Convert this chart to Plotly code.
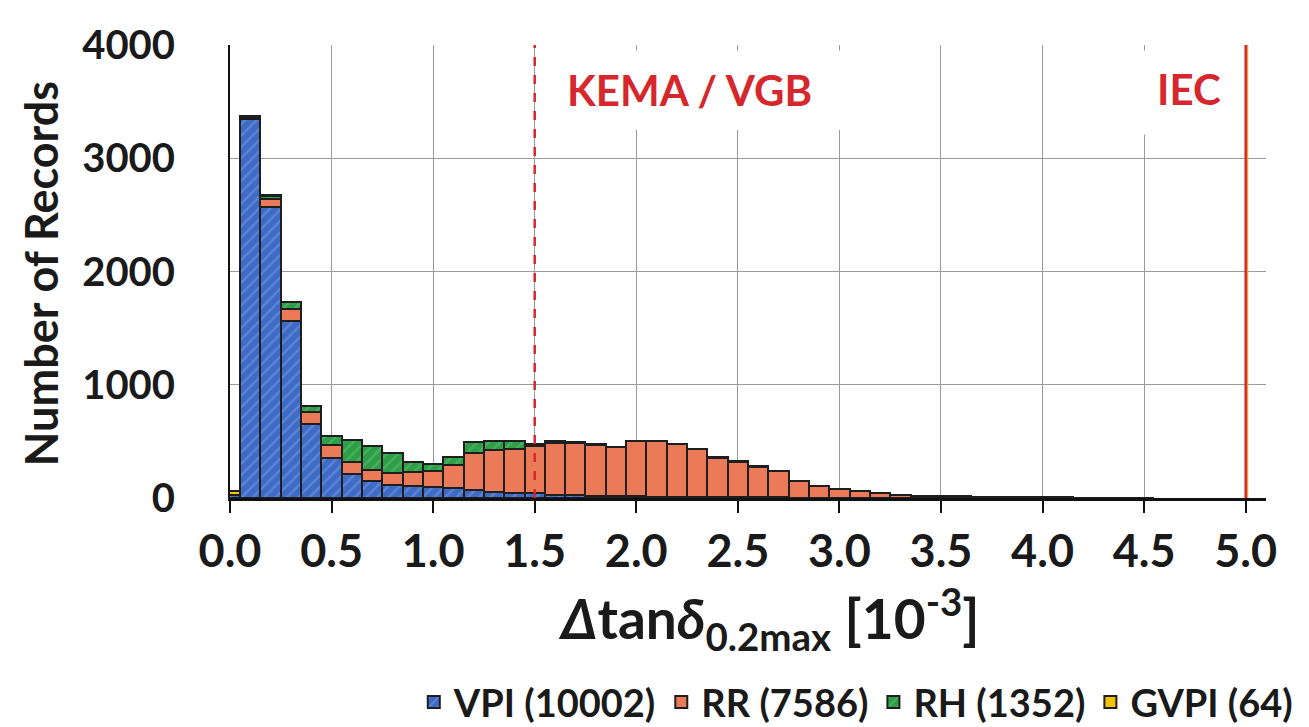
import plotly.graph_objects as go

# ---- data (bin centres in 10^-3) ----
bin_centers = [0.0, 0.1, 0.2, 0.3, 0.4, 0.5, 0.6, 0.7, 0.8, 0.9,
               1.0, 1.1, 1.2, 1.3, 1.4, 1.5, 1.6, 1.7, 1.8, 1.9,
               2.0, 2.1, 2.2, 2.3, 2.4, 2.5, 2.6, 2.7, 2.8, 2.9,
               3.0, 3.1, 3.2, 3.3, 3.4, 3.5, 3.6, 3.7, 3.8, 3.9,
               4.0, 4.1, 4.2, 4.3, 4.4, 4.5]

vpi = [25, 3345, 2570, 1560, 655, 350, 215, 150, 115, 110,
       100, 85, 70, 55, 45, 40, 30, 25, 20, 18,
       15, 12, 10, 8, 8, 6, 5, 5, 4, 3,
       3, 2, 2, 1, 1, 1, 1, 0, 0, 0,
       0, 0, 0, 0, 0, 0]
rr = [0, 15, 70, 110, 105, 115, 100, 95, 105, 120,
      140, 210, 330, 370, 390, 420, 460, 460, 450, 430,
      485, 490, 465, 425, 348, 315, 273, 230, 142, 100,
      75, 58, 42, 26, 20, 18, 16, 10, 5, 6,
      10, 6, 3, 2, 1, 1]
rh = [0, 5, 30, 60, 50, 85, 195, 210, 180, 85,
      60, 70, 95, 80, 70, 20, 15, 10, 10, 5,
      5, 3, 3, 2, 2, 2, 2, 0, 0, 0,
      0, 0, 0, 0, 0, 0, 0, 0, 0, 0,
      0, 0, 0, 0, 0, 0]
gvpi = [40, 5, 4, 3, 2, 0, 0, 0, 0, 0,
        0, 0, 0, 0, 0, 0, 0, 0, 0, 0,
        0, 0, 0, 0, 0, 0, 0, 0, 0, 0,
        0, 0, 0, 0, 0, 0, 0, 0, 0, 0,
        0, 0, 0, 0, 0, 0]

series_names = ["VPI (10002)", "RR (7586)", "RH (1352)", "GVPI (64)"]
x_ticks = [0.0, 0.5, 1.0, 1.5, 2.0, 2.5, 3.0, 3.5, 4.0, 4.5, 5.0]
y_ticks = [0, 1000, 2000, 3000, 4000]
kema_limit = 1.5
iec_limit = 5.0

FONT = "Lato"
DARK = "#1a1a1a"
outline = dict(color="#1e1e1e", width=2)

fig = go.Figure()
fig.add_trace(go.Bar(x=bin_centers, y=vpi, name=series_names[0],
                     marker=dict(color="#3E6BC6", line=outline,
                                 pattern=dict(shape="/", fillmode="overlay",
                                              fgcolor="#7D9DE2", size=8, solidity=0.3))))
fig.add_trace(go.Bar(x=bin_centers, y=rr, name=series_names[1],
                     marker=dict(color="#EA7A58", line=outline)))
fig.add_trace(go.Bar(x=bin_centers, y=rh, name=series_names[2],
                     marker=dict(color="#2E9E48", line=outline,
                                 pattern=dict(shape="/", fillmode="overlay",
                                              fgcolor="#62C275", size=8, solidity=0.3))))
fig.add_trace(go.Bar(x=bin_centers, y=gvpi, name=series_names[3],
                     marker=dict(color="#F5C400", line=outline)))

# white boxes behind the limit labels (cover gridlines only)
fig.add_shape(type="rect", xref="x", yref="y", x0=1.56, x1=3.05, y0=3250, y1=3950,
              fillcolor="white", line=dict(width=0), layer="between")
fig.add_shape(type="rect", xref="x", yref="y", x0=4.45, x1=4.9, y0=3210, y1=3950,
              fillcolor="white", line=dict(width=0), layer="between")

# limit lines
fig.add_shape(type="line", xref="x", yref="y", x0=kema_limit, x1=kema_limit, y0=0, y1=4000,
              line=dict(color="#D6282C", width=2.5, dash="dash"), layer="above")
fig.add_shape(type="line", xref="x", yref="y", xsizemode="pixel", xanchor=iec_limit,
              x0=1.5, x1=1.5, y0=0, y1=4000,
              line=dict(color="#F2A23A", width=2), layer="above")
fig.add_shape(type="line", xref="x", yref="y", x0=iec_limit, x1=iec_limit, y0=0, y1=4000,
              line=dict(color="#D6282C", width=2.5), layer="above")

fig.add_annotation(x=2.26, y=3600, xref="x", yref="y", text="KEMA / VGB", showarrow=False,
                   xanchor="center", yanchor="middle",
                   font=dict(family=FONT, size=42, color="#D6282C", weight="bold"))
fig.add_annotation(x=4.72, y=3610, xref="x", yref="y", text="IEC", showarrow=False,
                   xanchor="center", yanchor="middle",
                   font=dict(family=FONT, size=42, color="#D6282C", weight="bold"))

# axis titles
fig.add_annotation(x=-0.183, y=0.495, xref="paper", yref="paper", text="Number of Records",
                   showarrow=False, textangle=-90, xanchor="center", yanchor="middle",
                   font=dict(family=FONT, size=45, color=DARK, weight="bold"))
fig.add_annotation(x=0.52, y=-0.267, xref="paper", yref="paper",
                   text="<i>Δ</i>tan<i>δ</i><sub>0.2max</sub> [10<sup>-3</sup>]",
                   showarrow=False, xanchor="center", yanchor="middle",
                   font=dict(family=FONT, size=55, color=DARK, weight="bold"))

fig.update_layout(
    width=1309, height=727,
    margin=dict(l=222, r=51, t=32, b=237),
    paper_bgcolor="white", plot_bgcolor="white",
    barmode="stack", bargap=0,
    showlegend=True,
    legend=dict(orientation="h", xref="container", yref="container",
                x=0.31, xanchor="left", y=0.045, yanchor="middle",
                font=dict(family=FONT, size=38, color=DARK, weight="bold"),
                itemwidth=30, tracegroupgap=0, traceorder="normal"),
    font=dict(family=FONT, color=DARK),
)
fig.update_xaxes(range=[0, 5.1], tickvals=x_ticks, ticktext=[f"{v:.1f}" for v in x_ticks],
                 showgrid=True, gridcolor="#9a9a9a", gridwidth=1,
                 showline=True, linecolor="#111111", linewidth=3,
                 ticks="outside", ticklen=12, tickwidth=2, tickcolor="#111111",
                 ticklabelstandoff=0,
                 tickfont=dict(family=FONT, size=45, color=DARK, weight="bold"),
                 zeroline=False)
fig.update_yaxes(range=[0, 4000], tickvals=y_ticks,
                 showgrid=True, gridcolor="#9a9a9a", gridwidth=1,
                 showline=True, linecolor="#111111", linewidth=2,
                 ticks="", ticklabelstandoff=45,
                 tickfont=dict(family=FONT, size=40, color=DARK, weight="bold"),
                 zeroline=False)

fig.write_html("out.html")
